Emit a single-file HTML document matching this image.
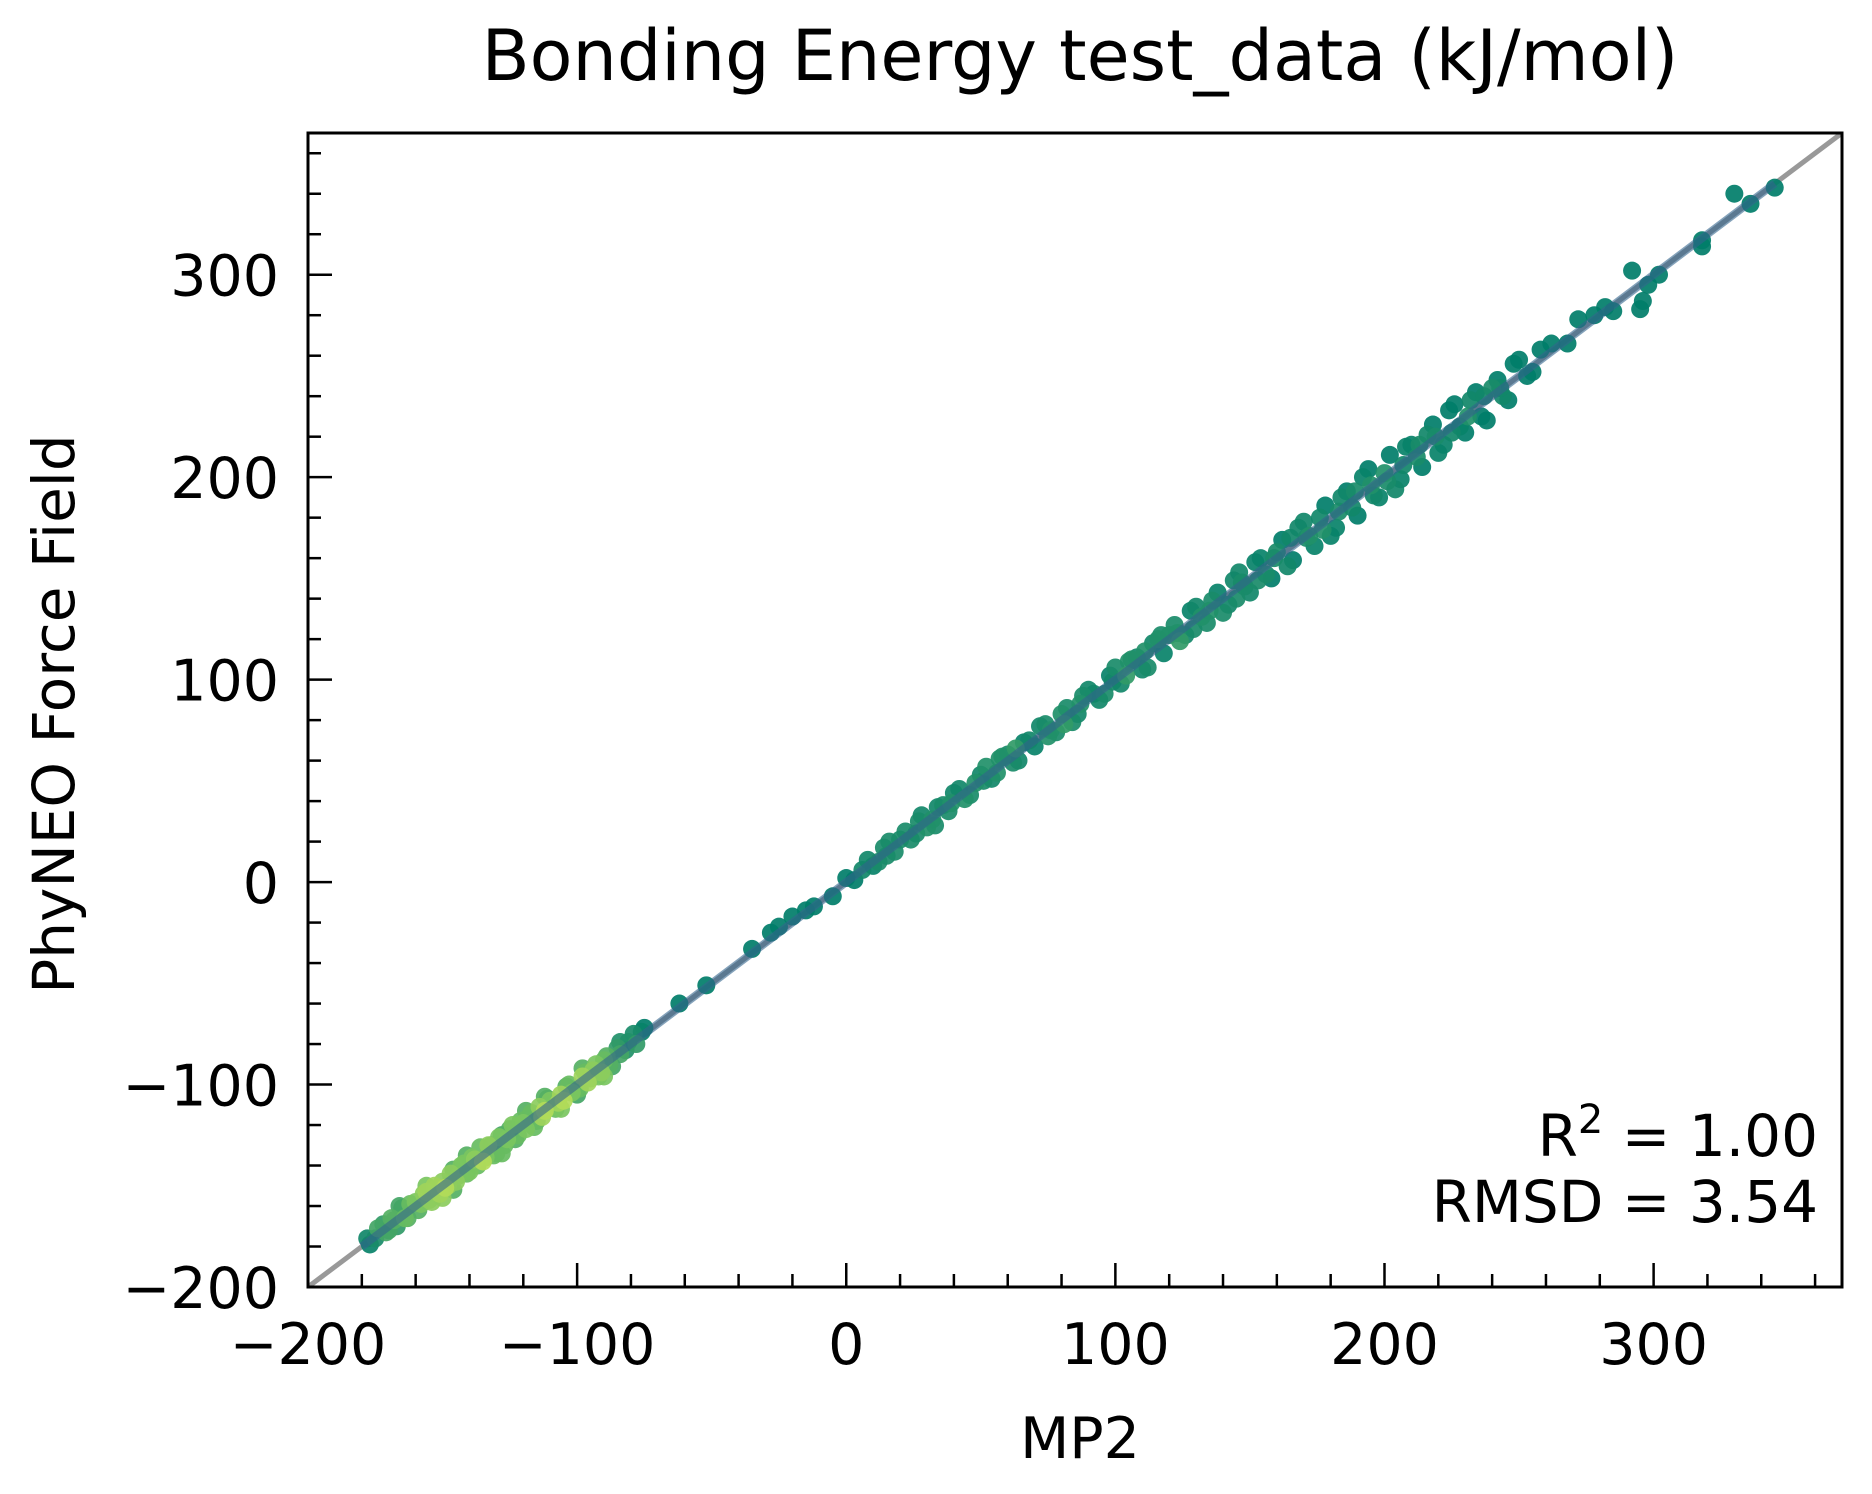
<!DOCTYPE html>
<html><head><meta charset="utf-8"><style>
html,body{margin:0;padding:0;background:#fff}
svg{display:block}
text{font-family:"DejaVu Sans","Liberation Sans",sans-serif;fill:#000}
</style></head><body>
<svg id="chart" width="1872" height="1494" viewBox="0 0 1872 1494">
<g id="plot"></g>
</svg>
<script>
const xTicks=[-200,-100,0,100,200,300];
const yTicks=[-200,-100,0,100,200,300];
const xTickLabels=["\u2212200","\u2212100","0","100","200","300"];
const yTickLabels=["\u2212200","\u2212100","0","100","200","300"];
const lowCluster=[[-178,-176],[-175,-176],[-172,-169],[-170,-172],[-168,-167],[-165,-161],[-163,-166],[-160,-158],[-158,-159],[-156,-153],[-154,-158],[-152,-151],[-150,-148],[-148,-150],[-146,-142],[-144,-145],[-142,-139],[-140,-143],[-138,-137],[-136,-131],[-134,-136],[-132,-130],[-130,-134],[-128,-125],[-126,-127],[-124,-120],[-122,-125],[-120,-119],[-118,-116],[-116,-121],[-114,-111],[-112,-113],[-110,-108],[-108,-112],[-106,-105],[-104,-101],[-102,-104],[-100,-105],[-98,-96],[-96,-99],[-94,-93],[-92,-96],[-90,-88],[-88,-90],[-85,-82],[-82,-83],[-79,-75],[-76,-74],
[-177,-179],[-174,-171],[-171,-173],[-169,-166],[-167,-170],[-164,-166],[-162,-159],[-159,-162],[-157,-154],[-155,-157],[-153,-150],[-151,-154],[-149,-151],[-147,-144],[-145,-148],[-143,-140],[-141,-144],[-139,-136],[-137,-140],[-135,-138],[-133,-130],[-131,-135],[-129,-126],[-127,-130],[-125,-122],[-123,-127],[-121,-118],[-119,-122],[-117,-114],[-115,-118],[-113,-116],[-111,-107],[-109,-111],[-107,-109],[-105,-108],[-103,-100],[-101,-103],[-99,-102],[-97,-94],[-95,-97],[-93,-90],[-91,-94],[-89,-86],[-87,-91],[-84,-85],[-81,-79],[-78,-80],[-75,-72],
[-166,-160],[-150,-156],[-141,-135],[-128,-134],[-119,-113],[-106,-112],[-98,-92],[-90,-96],[-84,-79],[-112,-106],[-146,-152],[-156,-150]];
const midSparse=[[-62,-60],[-52,-51],[-35,-33],[-28,-25],[-25,-22],[-20,-17],[-15,-14],[-12,-12],[-5,-7],[0,2],[3,1],[6,6]];
const highCluster=[[8,11],[12,10],[16,20],[20,21],[24,21],[28,33],[32,31],[36,38],[40,44],[44,41],[48,49],[52,57],[56,54],[60,63],[64,60],[68,70],[72,77],[76,75],[80,83],[84,79],[88,92],[92,93],[96,93],[100,106],[104,102],[108,111],[112,106],[116,120],[120,122],[124,119],[128,134],[132,131],[136,139],[140,133],[144,149],[148,146],[152,158],[156,152],[160,163],[164,156],[168,175],[172,171],[176,180],[180,171],[184,190],[188,185],[192,200],[196,191],[200,202],[204,194],[208,215],[212,210],[216,221],[220,212],[224,233],[228,225],[232,238],[236,230],[240,244],[244,240],[248,256],
[10,8],[14,17],[18,15],[22,25],[26,24],[30,27],[34,37],[38,35],[42,46],[46,43],[50,53],[54,51],[58,62],[62,59],[66,69],[70,67],[74,78],[78,74],[82,86],[86,83],[90,95],[94,90],[98,102],[102,98],[106,110],[110,105],[114,118],[118,113],[122,127],[126,122],[130,136],[134,128],[138,143],[142,137],[146,153],[150,143],[154,160],[158,150],[162,169],[166,159],[170,178],[174,166],[178,186],[182,175],[186,193],[190,181],[194,204],[198,190],[202,211],[206,199],[210,216],[214,205],[218,226],[222,216],[226,236],[230,222],[234,242],[238,228],[242,248],[246,238],[250,258],
[15,13],[27,30],[39,39],[51,50],[63,66],[75,72],[87,88],[99,99],[111,114],[123,123],[135,134],[147,148],[159,160],[171,170],[183,183],[195,196],[207,206],[219,220],[231,230],[243,244],
[33,28],[57,61],[81,78],[105,109],[129,125],[153,149],[165,170],[177,174],[189,193],[201,198],[213,216],[225,222],[237,240],[145,140],[117,122]];
const highSparse=[[253,250],[255,252],[258,263],[262,266],[268,266],[272,278],[278,280],[282,284],[285,282],[292,302],[295,283],[296,287],[298,295],[302,300],[318,314],[318,317],[330,340],[336,335],[345,343]];
const fitRange=[-180,345];

const L=308,R=1842,T=133,B=1287,XMIN=-200,XMAX=370,YMIN=-200,YMAX=370;
const sx=v=>L+(v-XMIN)/(XMAX-XMIN)*(R-L);
const sy=v=>B-(v-YMIN)/(YMAX-YMIN)*(B-T);
const NS="http://www.w3.org/2000/svg";
const svg=document.getElementById('chart');
const plot=document.getElementById('plot');
function mk(tag,attrs,parent){const e=document.createElementNS(NS,tag);for(const k in attrs)e.setAttribute(k,attrs[k]);(parent||svg).appendChild(e);return e;}

const defs=mk('defs',{});
const cp=mk('clipPath',{id:'clip'},defs);
mk('rect',{x:L,y:T,width:R-L,height:B-T},cp);
plot.setAttribute('clip-path','url(#clip)');

const diag=mk('line',{x1:sx(XMIN),y1:sy(XMIN),x2:sx(XMAX),y2:sy(XMAX),stroke:'#999',"stroke-width":5},plot);



const all=[].concat(lowCluster,midSparse,highCluster,highSparse);
const dens=all.map(p=>all.filter(q=>Math.hypot(q[0]-p[0],q[1]-p[1])<9).length);
const stops=[[0,[0,125,105]],[0.3,[35,145,105]],[0.6,[110,192,96]],[1,[215,234,85]]];
function col(t){t=Math.max(0,Math.min(1,t));for(let i=1;i<stops.length;i++){if(t<=stops[i][0]){const a=stops[i-1],b=stops[i];const f=(t-a[0])/(b[0]-a[0]);const c=a[1].map((v,j)=>Math.round(v+(b[1][j]-v)*f));return `rgb(${c})`;}}return 'rgb(215,234,85)';}
const order=all.map((p,i)=>i).sort((a,b)=>dens[a]-dens[b]);
const gp=mk('g',{},plot);


order.forEach(i=>{const p=all[i];
 const c=mk('circle',{cx:sx(p[0]),cy:sy(p[1]),r:9,fill:col((dens[i]-4)/14),'fill-opacity':0.92},gp);
 
 
});

const fit=mk('line',{x1:sx(fitRange[0]),y1:sy(fitRange[0]),x2:sx(fitRange[1]),y2:sy(fitRange[1]),stroke:'rgb(50,100,140)','stroke-opacity':0.6,"stroke-width":8},plot);



const fr=mk('rect',{x:L,y:T,width:R-L,height:B-T,fill:'none',stroke:'#000','stroke-width':3});



const tg=mk('g',{stroke:'#000','stroke-width':2.5});


for(let v=-200;v<=360;v+=20){
 const major=xTicks.includes(v);const len=major?24:13;
 if(v<=XMAX){mk('line',{x1:sx(v),y1:B,x2:sx(v),y2:B-len},tg);}
 if(v<=YMAX){mk('line',{x1:L,y1:sy(v),x2:L+len,y2:sy(v)},tg);}
}
xTicks.forEach((v,i)=>{const t=mk('text',{x:sx(v),y:1364,'text-anchor':'middle','font-size':57});t.textContent=xTickLabels[i];
 });
yTicks.forEach((v,i)=>{const t=mk('text',{x:279,y:sy(v)+21,'text-anchor':'end','font-size':57});t.textContent=yTickLabels[i];
 });

function txt(s,a,name){const t=mk('text',a);t.textContent=s;return t;}
txt('Bonding Energy test_data (kJ/mol)',{x:1080,y:80,'text-anchor':'middle','font-size':70},'chart-title');
txt('MP2',{x:1080,y:1458,'text-anchor':'middle','font-size':57},'x-axis-title');
txt('PhyNEO Force Field',{x:74,y:714,'text-anchor':'middle','font-size':58,transform:'rotate(-90 74 714)'},'y-axis-title');
const r2=txt('',{x:1818,y:1156,'text-anchor':'end','font-size':58},'r-squared-label');
r2.innerHTML='R<tspan dy="-23" font-size="40">2</tspan><tspan dy="23"> = 1.00</tspan>';
txt('RMSD = 3.54',{x:1818,y:1222,'text-anchor':'end','font-size':58},'rmsd-label');
</script>
</body></html>
